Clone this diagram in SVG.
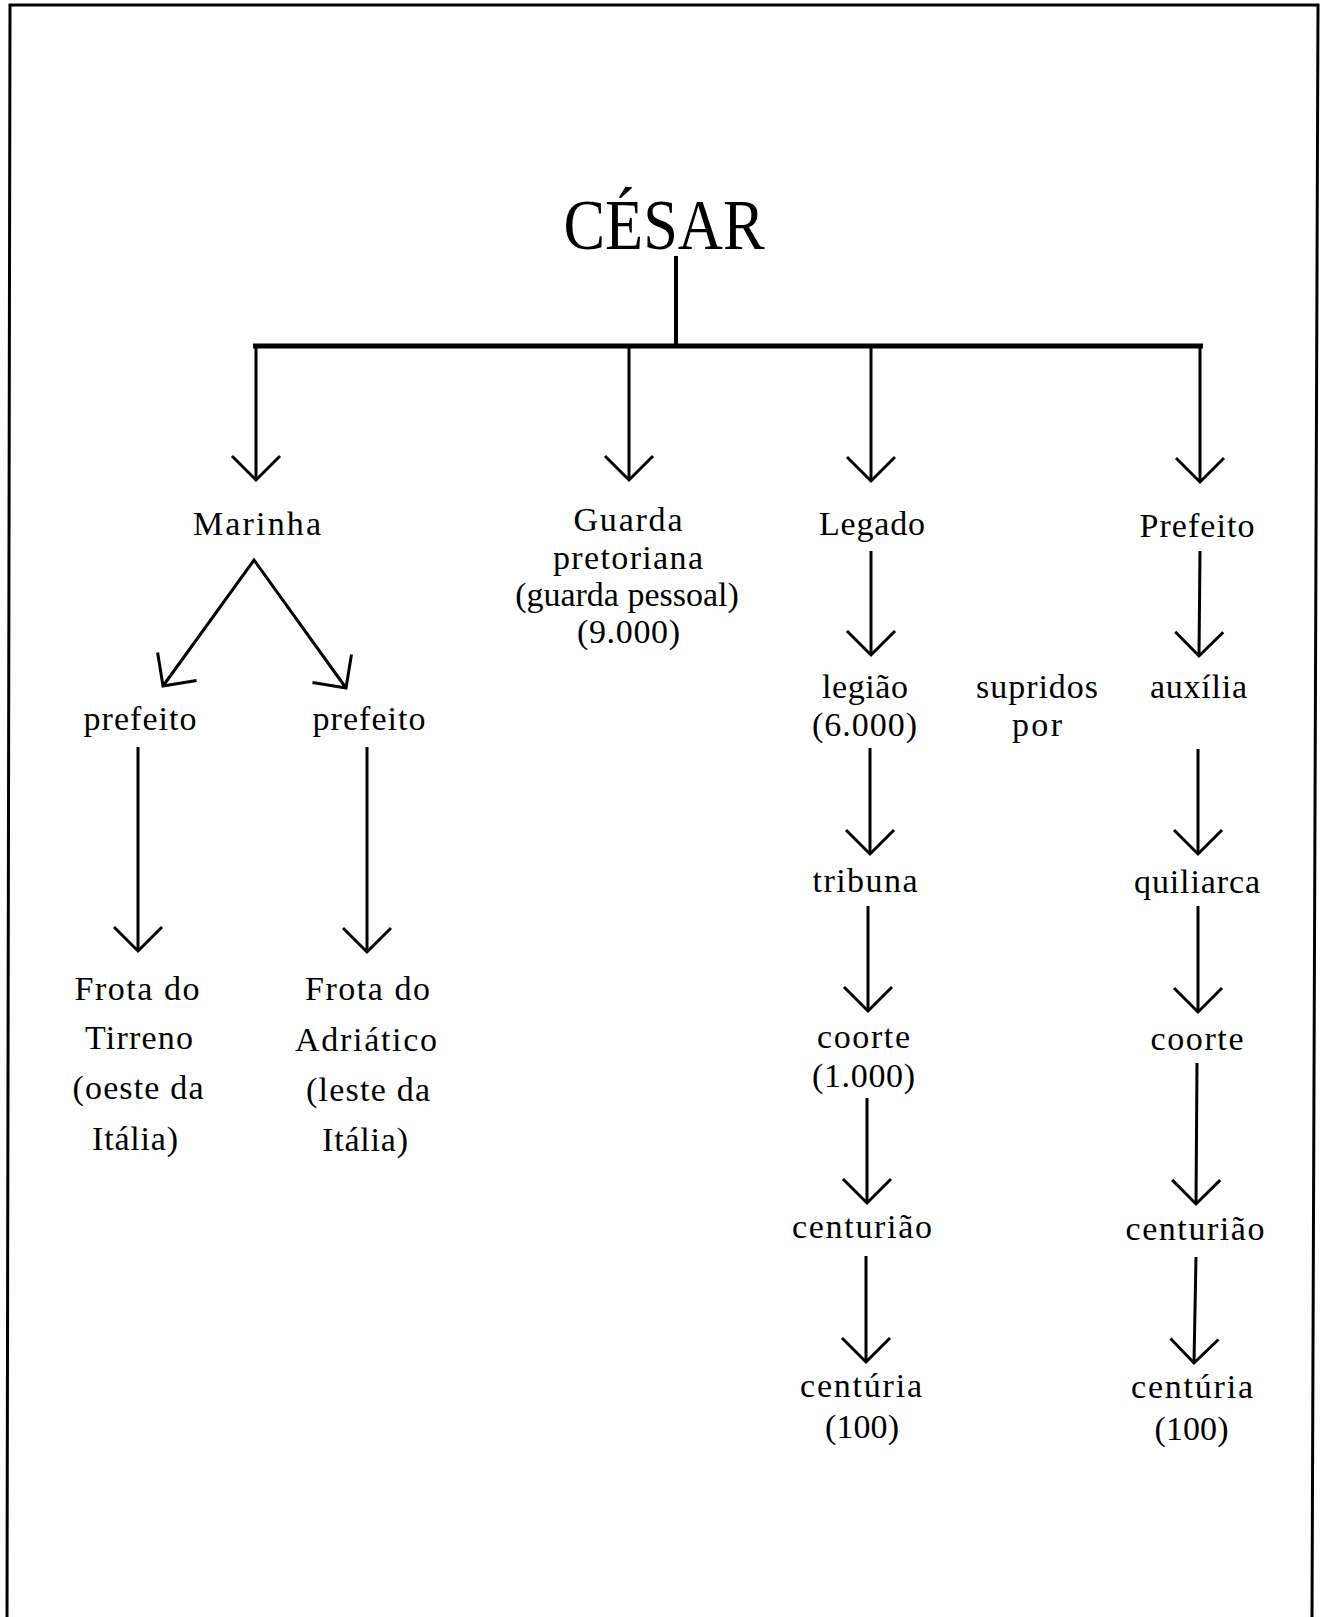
<svg xmlns="http://www.w3.org/2000/svg" width="1325" height="1617" viewBox="0 0 1325 1617">
  <style>
    text { font-family: "Liberation Serif", "Times New Roman", serif; font-size: 34px; fill: #000; text-anchor: middle; }
    .title { font-size: 72px; }
    .wire { fill: none; stroke: #000; stroke-width: 3; }
    .arrow { marker-end: url(#vhead); }
    .frame { fill: none; stroke: #000; stroke-width: 3; }
  </style>
  <defs>
    <marker id="vhead" markerUnits="userSpaceOnUse" viewBox="-30 -30 36 60" refX="0" refY="0" markerWidth="36" markerHeight="60" orient="auto-start-reverse" overflow="visible">
      <path d="M-24,-24 L0,0 L-24,24" fill="none" stroke="#000" stroke-width="3"/>
    </marker>
  </defs>

  <rect width="1325" height="1617" fill="#fff"/>

  <!-- page frame (open at the bottom) -->
  <path class="frame" d="M7,1617 L10,5 L1318,5 L1312,1617"/>

  <!-- connectors -->
  <g id="connectors">
    <line class="wire" x1="676" y1="256" x2="676" y2="346" style="stroke-width:4"/>
    <line class="wire" x1="253" y1="346" x2="1203" y2="346" style="stroke-width:5"/>
    <line class="wire arrow" x1="256" y1="346" x2="256" y2="480"/>
    <line class="wire arrow" x1="629" y1="346" x2="629" y2="480"/>
    <line class="wire arrow" x1="871" y1="346" x2="871" y2="481"/>
    <line class="wire arrow" x1="1200" y1="346" x2="1200" y2="482"/>

    <!-- Marinha split -->
    <path class="wire" d="M163,686 L254,560 L346,688" marker-start="url(#vhead)" marker-end="url(#vhead)"/>
    <line class="wire arrow" x1="138" y1="747" x2="138" y2="951"/>
    <line class="wire arrow" x1="367" y1="747" x2="367" y2="952"/>

    <!-- Legado chain -->
    <line class="wire arrow" x1="871" y1="551" x2="871" y2="655"/>
    <line class="wire arrow" x1="870" y1="748" x2="870" y2="854"/>
    <line class="wire arrow" x1="868" y1="906" x2="868" y2="1011"/>
    <line class="wire arrow" x1="867" y1="1098" x2="867" y2="1203"/>
    <line class="wire arrow" x1="866" y1="1256" x2="866" y2="1362"/>

    <!-- Prefeito chain -->
    <line class="wire arrow" x1="1200" y1="551" x2="1199" y2="656"/>
    <line class="wire arrow" x1="1198" y1="749" x2="1198" y2="854"/>
    <line class="wire arrow" x1="1198" y1="906" x2="1198" y2="1012"/>
    <line class="wire arrow" x1="1197" y1="1063" x2="1196" y2="1204"/>
    <line class="wire arrow" x1="1196" y1="1257" x2="1194" y2="1363"/>
  </g>

  <!-- nodes -->
  <g id="cesar"><text class="title" x="664" y="249" textLength="201" lengthAdjust="spacingAndGlyphs">CÉSAR</text></g>

  <g id="marinha"><text x="257" y="535" textLength="128">Marinha</text></g>
  <g id="guarda">
    <text x="628" y="531" textLength="109">Guarda</text>
    <text x="628" y="568.5" textLength="150">pretoriana</text>
    <text x="627" y="606">(guarda pessoal)</text>
    <text x="628.5" y="643" textLength="103">(9.000)</text>
  </g>
  <g id="legado"><text x="872" y="535" textLength="106">Legado</text></g>
  <g id="prefeito-aux"><text x="1197" y="537" textLength="115">Prefeito</text></g>

  <g id="prefeito-tirreno"><text x="140" y="730" textLength="113">prefeito</text></g>
  <g id="prefeito-adriatico"><text x="369" y="730" textLength="113">prefeito</text></g>

  <g id="frota-tirreno">
    <text x="137" y="1000" textLength="125">Frota do</text>
    <text x="139" y="1049" textLength="108">Tirreno</text>
    <text x="138" y="1099" textLength="131">(oeste da</text>
    <text x="135" y="1150" textLength="86">Itália)</text>
  </g>
  <g id="frota-adriatico">
    <text x="367.5" y="1000" textLength="125">Frota do</text>
    <text x="366" y="1051" textLength="142">Adriático</text>
    <text x="368" y="1101" textLength="124">(leste da</text>
    <text x="365" y="1151" textLength="86">Itália)</text>
  </g>

  <g id="legiao">
    <text x="865" y="698" textLength="86">legião</text>
    <text x="864.5" y="736" textLength="105">(6.000)</text>
  </g>
  <g id="supridos">
    <text x="1037" y="698" textLength="122">supridos</text>
    <text x="1037" y="736" textLength="50">por</text>
  </g>
  <g id="auxilia"><text x="1198.5" y="698" textLength="97">auxília</text></g>

  <g id="tribuna"><text x="865" y="891.5" textLength="105">tribuna</text></g>
  <g id="quiliarca"><text x="1197" y="892.5" textLength="126">quiliarca</text></g>

  <g id="coorte-legiao">
    <text x="863.5" y="1048" textLength="93">coorte</text>
    <text x="863.5" y="1087" textLength="103">(1.000)</text>
  </g>
  <g id="coorte-auxilia"><text x="1197" y="1050" textLength="93">coorte</text></g>

  <g id="centuriao-legiao"><text x="862" y="1238" textLength="140">centurião</text></g>
  <g id="centuriao-auxilia"><text x="1195" y="1240" textLength="139">centurião</text></g>

  <g id="centuria-legiao">
    <text x="861" y="1397" textLength="122">centúria</text>
    <text x="862" y="1438" textLength="74">(100)</text>
  </g>
  <g id="centuria-auxilia">
    <text x="1192" y="1398" textLength="122">centúria</text>
    <text x="1191.5" y="1440" textLength="74">(100)</text>
  </g>
</svg>
